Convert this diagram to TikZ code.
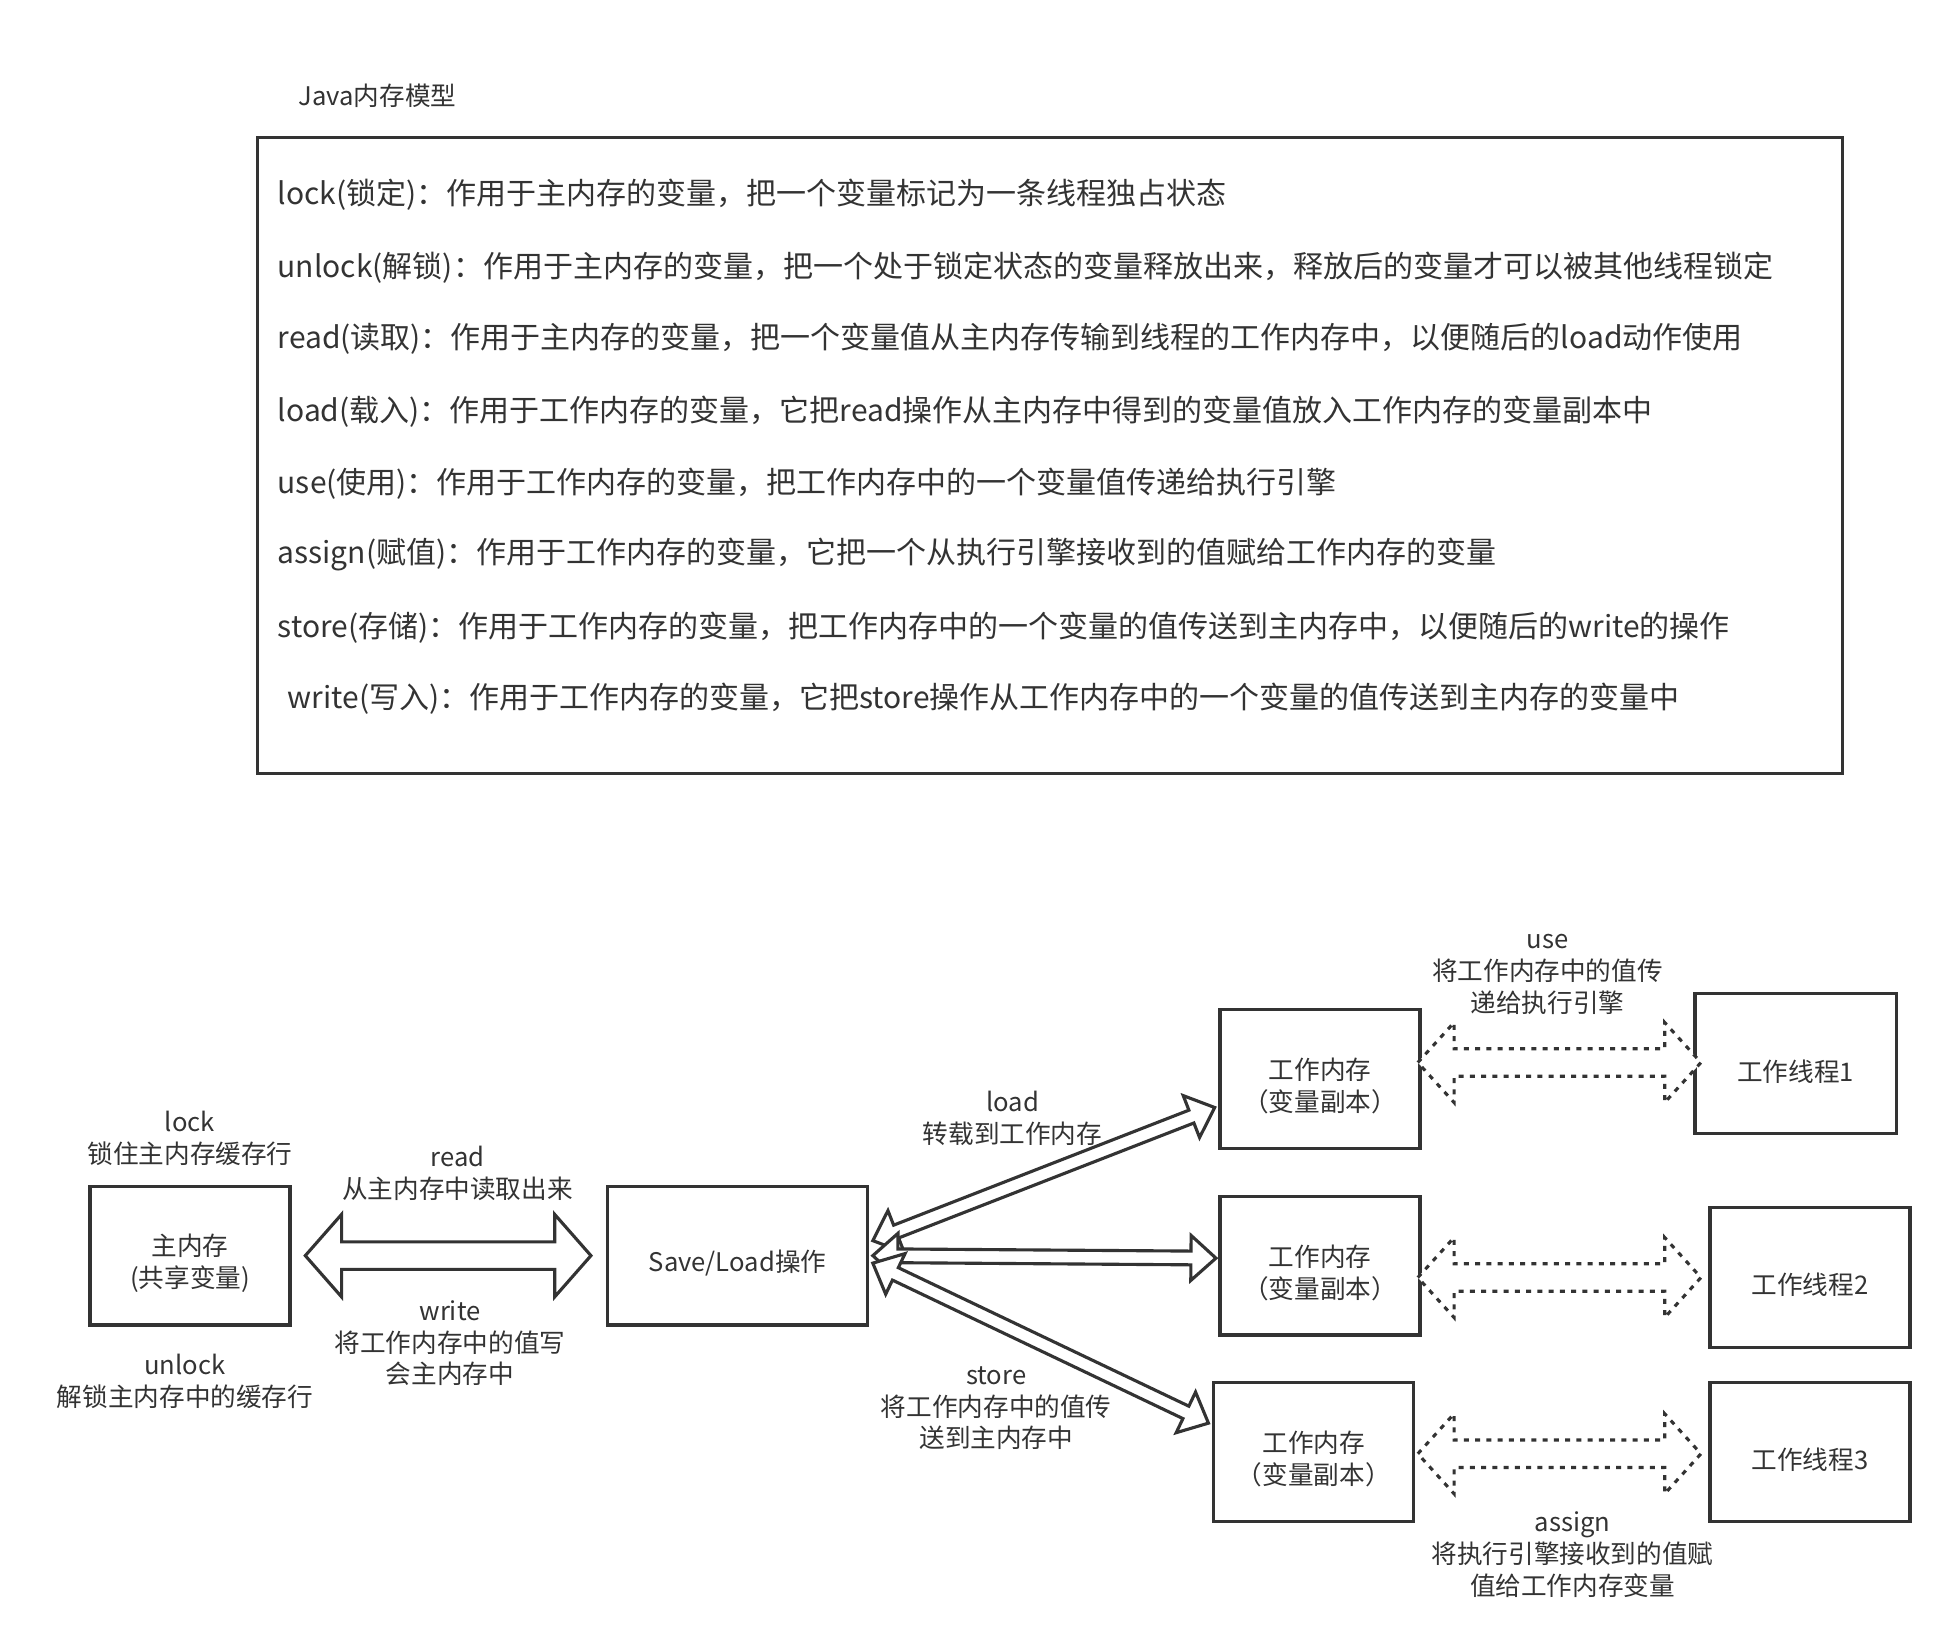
\documentclass[tikz,border=0pt]{standalone}
\usepackage{fontspec}
\setmainfont{Noto Sans CJK SC}
\usetikzlibrary{calc}
\definecolor{ink}{HTML}{333333}

% wide two-headed arrow: style, from, to, shaft half width, head half width, head length
\newcommand{\flexarrow}[6]{%
  \coordinate (fa-a) at ($(#2)!#6!(#3)$);
  \coordinate (fa-b) at ($(#3)!#6!(#2)$);
  \draw[#1] (#2) -- ($(fa-a)!#5!90:(#3)$) -- ($(fa-a)!#4!90:(#3)$)
    -- ($(fa-b)!#4!-90:(#2)$) -- ($(fa-b)!#5!-90:(#2)$) -- (#3)
    -- ($(fa-b)!#5!90:(#2)$) -- ($(fa-b)!#4!90:(#2)$)
    -- ($(fa-a)!#4!-90:(#3)$) -- ($(fa-a)!#5!-90:(#3)$) -- cycle;
}

\begin{document}
\begin{tikzpicture}[x=1pt, y=-1pt, color=ink,
    box/.style={draw=ink, line width=2.5pt, minimum width=160pt, minimum height=111pt, inner sep=0pt},
    note/.style={inner sep=0pt, align=center, yshift=-2pt, font=\fontsize{20.5}{25.5}\selectfont},
    boxtext/.style={note, yshift=-4pt},
    ruleline/.style={inner sep=0pt, anchor=west, font=\fontsize{24}{29}\selectfont},
    blockarrow/.style={draw=ink, fill=white, line width=2.5pt},
    dotarrow/.style={draw=ink, fill=white, line width=2.5pt, dash pattern=on 4pt off 5pt}]
    \useasboundingbox (0,0) rectangle (1568,1317);

    % operations
    \node[note] (title) at (302,75) {Java内存模型};
    \draw[line width=2.5pt] (206,110) rectangle (1474,619);
    \foreach \x/\y/\t [count=\i] in {
        222/156/{lock(锁定)：作用于主内存的变量，把一个变量标记为一条线程独占状态},
        222/214/{unlock(解锁)：作用于主内存的变量，把一个处于锁定状态的变量释放出来，释放后的变量才可以被其他线程锁定},
        222/271/{read(读取)：作用于主内存的变量，把一个变量值从主内存传输到线程的工作内存中，以便随后的load动作使用},
        222/329/{load(载入)：作用于工作内存的变量，它把read操作从主内存中得到的变量值放入工作内存的变量副本中},
        222/387/{use(使用)：作用于工作内存的变量，把工作内存中的一个变量值传递给执行引擎},
        222/444/{assign(赋值)：作用于工作内存的变量，它把一个从执行引擎接收到的值赋给工作内存的变量},
        222/502/{store(存储)：作用于工作内存的变量，把工作内存中的一个变量的值传送到主内存中，以便随后的write的操作},
        230/559/{write(写入)：作用于工作内存的变量，它把store操作从工作内存中的一个变量的值传送到主内存的变量中}} {
        \node[ruleline] (rule\i) at (\x,\y) {\t};
    }

    % memory model
    \node[box, label={[boxtext]center:主内存\\(共享变量)}] (mainmem) at (152,1004.5) {};
    \node[box, minimum width=208pt, label={[boxtext]center:Save/Load操作}] (saveload) at (590,1004.5) {};
    \node[box, label={[boxtext]center:工作内存\\（变量副本）}] (wm1) at (1056,863) {};
    \node[box, label={[boxtext]center:工作内存\\（变量副本）}] (wm2) at (1056,1012.5) {};
    \node[box, label={[boxtext]center:工作内存\\（变量副本）}] (wm3) at (1051,1161.5) {};
    \node[box, minimum width=161pt, minimum height=112pt, label={[boxtext]center:工作线程1}] (th1) at (1436.5,851) {};
    \node[box, minimum height=112pt, label={[boxtext]center:工作线程2}] (th2) at (1448,1022) {};
    \node[box, label={[boxtext]center:工作线程3}] (th3) at (1448,1161.5) {};

    \coordinate (rw-l) at ($(mainmem.east)+(11,0)$);
    \coordinate (rw-r) at ($(saveload.west)+(-12,0)$);
    \flexarrow{blockarrow}{rw-l}{rw-r}{11pt}{33pt}{29pt}

    \coordinate (sl-1) at ($(saveload.east)+(3,-12)$);
    \coordinate (sl-2) at ($(saveload.east)+(3,0)$);
    \coordinate (sl-3) at ($(saveload.east)+(3,6)$);
    \coordinate (ld-r) at ($(wm1.west)+(-3,23)$);
    \coordinate (md-r) at ($(wm2.west)+(-2,-6)$);
    \coordinate (st-r) at ($(wm3.west)+(-3,-23)$);
    \flexarrow{blockarrow}{sl-1}{ld-r}{5.5pt}{18pt}{20pt}
    \flexarrow{blockarrow}{sl-2}{md-r}{5.5pt}{18pt}{20pt}
    \flexarrow{blockarrow}{sl-3}{st-r}{5.5pt}{18pt}{20pt}

    \coordinate (u1-l) at ($(wm1.east)+(-3,-13)$);
    \coordinate (u1-r) at ($(th1.west)+(6,-1)$);
    \coordinate (u2-l) at ($(wm2.east)+(-3,9.5)$);
    \coordinate (u2-r) at ($(th2.west)+(-6,0)$);
    \coordinate (u3-l) at ($(wm3.east)+(2,1.5)$);
    \coordinate (u3-r) at ($(th3.west)+(-6,1.5)$);
    \foreach \r in {1,2,3} {
        \flexarrow{dotarrow}{u\r-l}{u\r-r}{11pt}{32pt}{29pt}
    }

    \node[note] (locklbl) at (152,909) {lock\\锁住主内存缓存行};
    \node[note] (unlocklbl) at (148,1103) {unlock\\解锁主内存中的缓存行};
    \node[note] (readlbl) at (366,937) {read\\从主内存中读取出来};
    \node[note] (writelbl) at (360,1072.5) {write\\将工作内存中的值写\\会主内存中};
    \node[note] (loadlbl) at (810,893) {load\\转载到工作内存};
    \node[note] (storelbl) at (797,1124.5) {store\\将工作内存中的值传\\送到主内存中};
    \node[note] (uselbl) at (1238,777.5) {use\\将工作内存中的值传\\递给执行引擎};
    \node[note] (assignlbl) at (1258,1241.5) {assign\\将执行引擎接收到的值赋\\值给工作内存变量};
\end{tikzpicture}
\end{document}
